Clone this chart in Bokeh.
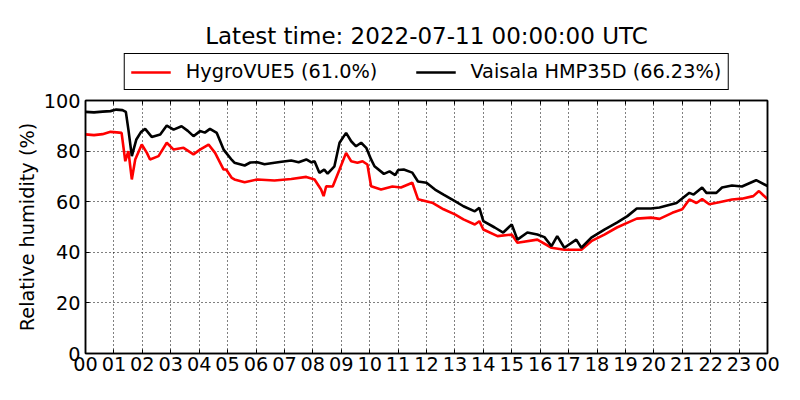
from bokeh.plotting import figure
from bokeh.layouts import column
from bokeh.models import (Legend, LegendItem, FixedTicker, Title, ColumnDataSource,
                          LinearAxis)
from bokeh.embed import file_html
from bokeh.resources import INLINE

# ---- data ----
hmp_hours = [0.0, 0.3, 0.6, 0.88, 1.08, 1.3, 1.42, 1.51, 1.63, 1.79, 1.95, 2.1, 2.33,
             2.63, 2.86, 3.1, 3.38, 3.6, 3.8, 4.03, 4.2, 4.38, 4.62, 4.86, 4.95, 5.15,
             5.24, 5.6, 5.8, 6.05, 6.3, 6.65, 6.9, 7.24, 7.5, 7.77, 7.95, 8.06, 8.23,
             8.4, 8.52, 8.76, 8.94, 9.17, 9.35, 9.52, 9.7, 9.88, 10.05, 10.17, 10.5,
             10.7, 10.9, 11.0, 11.2, 11.5, 11.7, 12.0, 12.3, 12.6, 13.0, 13.3, 13.7,
             13.86, 14.0, 14.4, 14.7, 15.0, 15.2, 15.55, 15.9, 16.15, 16.4, 16.6,
             16.85, 17.27, 17.45, 17.8, 18.26, 18.7, 19.07, 19.4, 19.9, 20.2, 20.8,
             21.25, 21.4, 21.7, 21.85, 22.2, 22.4, 22.75, 23.1, 23.6, 24.0]
hmp_rh = [95.5, 95.3, 95.6, 95.8, 96.4, 96.2, 95.5, 88.5, 78.0, 84.6, 87.5, 88.8, 85.6,
          86.6, 90.1, 88.5, 89.8, 88.0, 85.9, 87.9, 87.3, 88.8, 87.2, 80.6, 79.3, 76.5,
          75.4, 74.3, 75.5, 75.6, 74.8, 75.4, 75.8, 76.3, 75.6, 76.7, 75.5, 76.0, 71.4,
          72.7, 71.1, 74.0, 83.3, 87.2, 83.9, 81.9, 83.3, 81.3, 76.7, 74.0, 71.0,
          72.0, 70.5, 72.5, 72.7, 71.5, 68.0, 67.5, 64.8, 62.8, 60.2, 58.2, 56.2,
          57.6, 52.3, 49.8, 47.8, 51.0, 45.0, 47.8, 47.0, 46.0, 42.4, 46.4,
          41.8, 45.0, 41.8, 45.8, 49.0, 51.7, 54.3, 57.3, 57.3, 57.7, 59.5,
          63.5, 62.8, 65.6, 63.5, 63.5, 65.6, 66.4, 66.0, 68.5, 66.2]

hyg_hours = [0.0, 0.3, 0.6, 0.88, 1.1, 1.27, 1.4, 1.51, 1.63, 1.75, 1.98, 2.16, 2.27,
             2.57, 2.86, 3.1, 3.45, 3.8, 4.03, 4.33, 4.56, 4.86, 4.95, 5.15, 5.24, 5.6,
             6.05, 6.65, 7.24, 7.77, 8.06, 8.29, 8.38, 8.47, 8.7, 8.94, 9.17, 9.35,
             9.57, 9.75, 9.92, 10.05, 10.4, 10.8, 11.1, 11.5, 11.7, 12.2, 12.6, 13.0,
             13.3, 13.7, 13.86, 14.0, 14.5, 15.0, 15.2, 15.9, 16.4, 16.85, 17.45,
             17.8, 18.26, 18.7, 19.2, 19.4, 19.9, 20.2, 20.65, 21.0, 21.25, 21.5,
             21.7, 21.95, 22.3, 22.75, 23.1, 23.5, 23.7, 24.0]
hyg_rh = [86.6, 86.3, 86.7, 87.6, 87.4, 87.2, 76.0, 80.0, 68.8, 76.7, 82.6, 79.3, 76.7,
          78.0, 83.3, 80.6, 81.3, 78.7, 80.6, 82.6, 79.3, 72.7, 72.7, 69.4, 68.8, 67.7,
          68.8, 68.4, 69.0, 69.8, 68.8, 64.8, 62.2, 66.1, 66.0, 72.7, 79.3, 76.0,
          75.4, 76.0, 74.7, 66.1, 64.8, 66.0, 65.6, 67.5, 61.0, 59.6, 57.0, 55.0,
          53.0, 51.0, 52.3, 49.0, 46.4, 47.0, 43.8, 45.0, 41.8, 41.0, 41.0,
          44.4, 47.0, 49.8, 52.3, 53.3, 53.7, 53.2, 55.6, 57.0, 60.9, 59.5,
          61.0, 59.0, 59.8, 60.9, 61.2, 62.2, 64.2, 61.0]

hour_ticks = list(range(0, 25))
hour_labels = ["%02d" % (h % 24) for h in hour_ticks]
rh_ticks = [0, 20, 40, 60, 80, 100]

title_text = "Latest time: 2022-07-11 00:00:00 UTC"
hyg_label = "HygroVUE5 (61.0%)"
hmp_label = "Vaisala HMP35D (66.23%)"

FONT = "DejaVu Sans"
FS = "19.3px"
RED = "#ff0000"
LW = 2.6

# ---------------- main plot ----------------
p = figure(width=784, height=293, x_range=(0, 24), y_range=(0, 100),
           output_backend="svg", toolbar_location=None, title=None,
           min_border_left=85, min_border_right=17, min_border_bottom=31,
           min_border_top=9)

src_hyg = ColumnDataSource(dict(x=hyg_hours, y=hyg_rh))
src_hmp = ColumnDataSource(dict(x=hmp_hours, y=hmp_rh))
p.line("x", "y", source=src_hyg, line_color=RED, line_width=LW)
p.line("x", "y", source=src_hmp, line_color="black", line_width=LW)

xt = FixedTicker(ticks=hour_ticks)
yt = FixedTicker(ticks=rh_ticks)
for ax in [p.xaxis[0], p.yaxis[0]]:
    ax.major_label_text_font = FONT
    ax.major_label_text_font_size = FS
    ax.major_label_text_color = "black"
    ax.axis_line_width = 1.5
    ax.axis_line_color = "black"
    ax.major_tick_in = 4
    ax.major_tick_out = 0
    ax.major_tick_line_color = "black"
    ax.minor_tick_line_color = None
p.xaxis[0].ticker = xt
p.xaxis[0].major_label_overrides = {h: l for h, l in zip(hour_ticks, hour_labels)}
p.xaxis[0].major_label_standoff = 3
p.yaxis[0].ticker = yt
p.yaxis[0].major_label_standoff = 5
p.yaxis[0].axis_label = "Relative humidity (%)"
p.yaxis[0].axis_label_text_font = FONT
p.yaxis[0].axis_label_text_font_size = FS
p.yaxis[0].axis_label_text_font_style = "normal"
p.yaxis[0].axis_label_text_color = "black"
p.yaxis[0].axis_label_standoff = 2

# mirrored inward ticks on the top and right edges (no labels)
top_ax = LinearAxis(ticker=xt, major_label_overrides={t: "" for t in hour_ticks},
                    major_label_text_font_size="1px", major_label_standoff=0,
                    major_tick_in=4, major_tick_out=0, minor_tick_line_color=None,
                    axis_line_width=1.5, axis_line_color="black")
right_ax = LinearAxis(ticker=yt, major_label_overrides={t: "" for t in rh_ticks},
                      major_label_text_font_size="1px", major_label_standoff=0,
                      major_tick_in=4, major_tick_out=0, minor_tick_line_color=None,
                      axis_line_width=1.5, axis_line_color="black")
p.add_layout(top_ax, "above")
p.add_layout(right_ax, "right")

p.outline_line_color = "black"
p.outline_line_width = 1.5
p.outline_line_alpha = 1

for g in [p.xgrid[0], p.ygrid[0]]:
    g.grid_line_color = "black"
    g.grid_line_dash = "1 3"
    g.grid_line_width = 1
p.xgrid[0].ticker = xt
p.ygrid[0].ticker = yt

# ---------------- header (title + legend) ----------------
h = figure(width=784, height=91, x_range=(0, 24), y_range=(200, 300),
           output_backend="svg", toolbar_location=None, title=None,
           x_axis_location=None, y_axis_location=None,
           min_border_left=85, min_border_right=17, min_border_bottom=0,
           min_border_top=48)
h.grid.visible = False
h.outline_line_color = None
# same series drawn out of view; they only serve as legend entries
lh_hyg = h.line("x", "y", source=src_hyg, line_color=RED, line_width=LW)
lh_hmp = h.line("x", "y", source=src_hmp, line_color="black", line_width=LW)

legend = Legend(items=[LegendItem(label=hyg_label, renderers=[lh_hyg]),
                       LegendItem(label=hmp_label, renderers=[lh_hmp])],
                orientation="horizontal", location="bottom_center")
legend.label_text_font = FONT
legend.label_text_font_size = FS
legend.label_text_color = "black"
legend.glyph_width = 40
legend.glyph_height = 20
legend.label_standoff = 15
legend.spacing = 38
legend.padding = 6
legend.margin = 1
legend.border_line_color = "black"
legend.border_line_width = 1.5
legend.border_line_alpha = 1
legend.label_height = 20
h.add_layout(legend, "center")

t = Title(text=title_text, align="center", text_font=FONT, text_font_size="23px",
          text_font_style="normal", text_color="black", standoff=0)
h.add_layout(t, "above")

layout = column(h, p, spacing=0)
open("out.html", "w").write(file_html(layout, INLINE))
